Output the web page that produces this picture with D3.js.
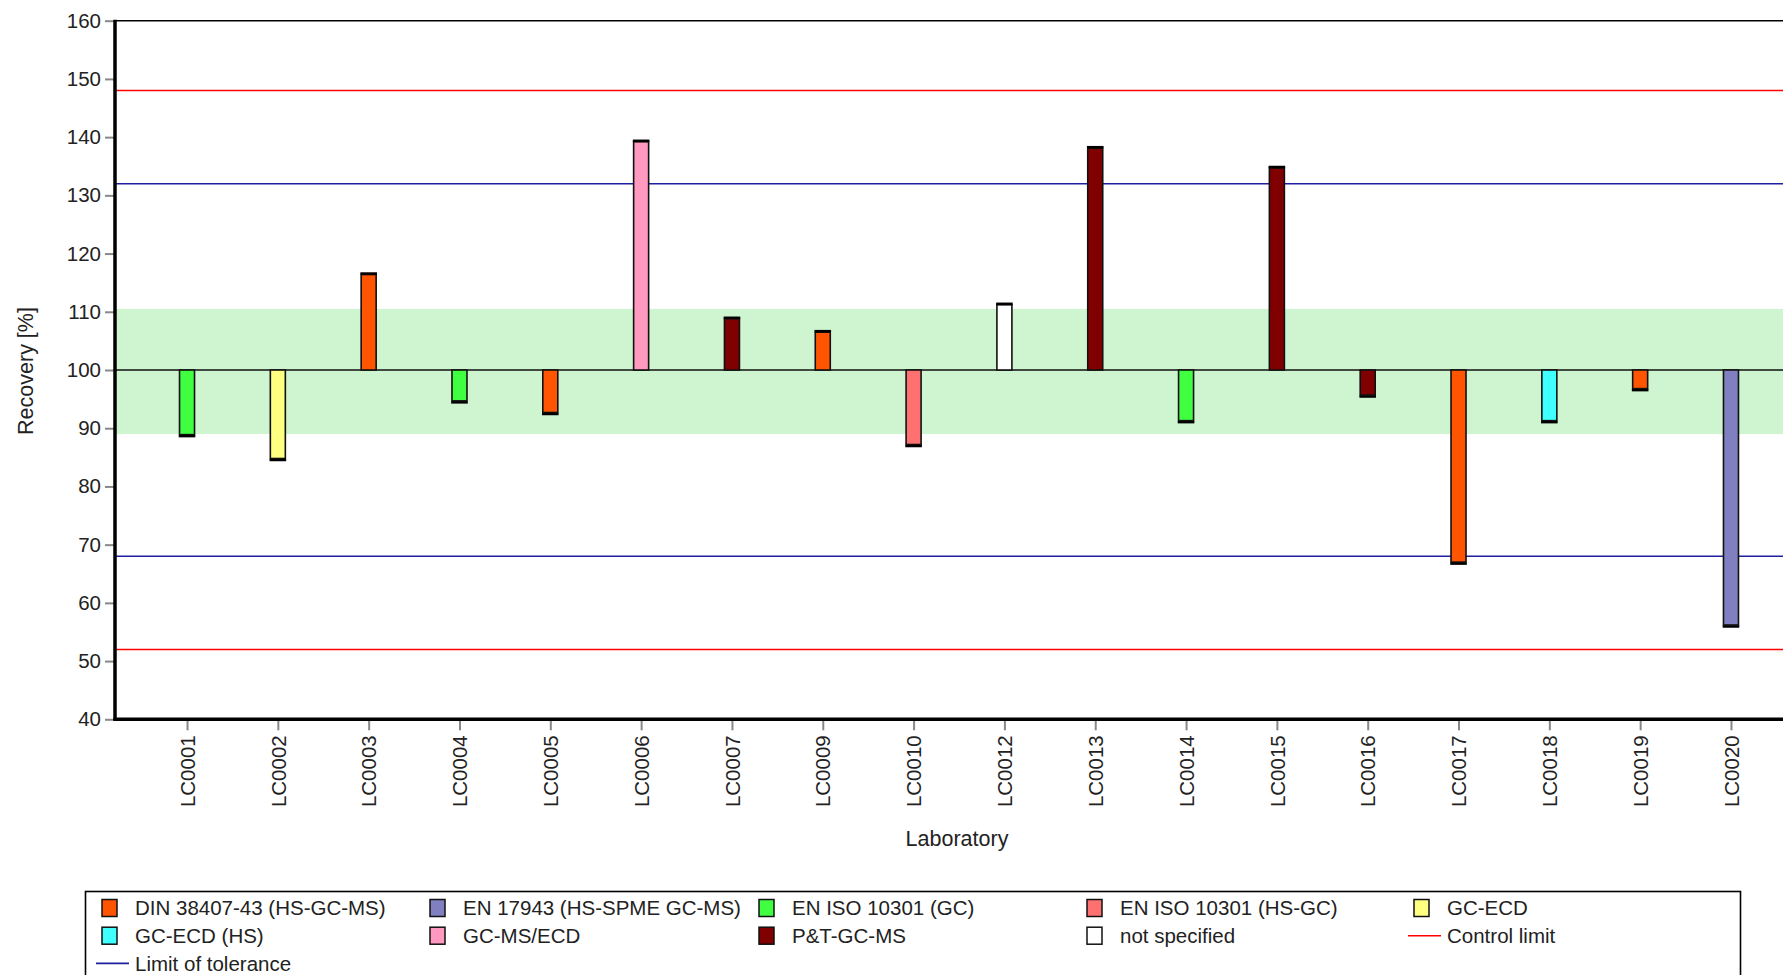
<!DOCTYPE html>
<html><head><meta charset="utf-8">
<script src="https://cdn.jsdelivr.net/npm/d3@7"></script>
<style>
html,body{margin:0;padding:0;background:#fff;overflow:hidden;}
svg{display:block;font-family:"Liberation Sans",Arial,sans-serif;}
</style></head>
<body>
<svg id="chart" width="1783" height="975"></svg>
<script>
// ---- data ----
const labs = ["LC0001","LC0002","LC0003","LC0004","LC0005","LC0006","LC0007","LC0009","LC0010","LC0012","LC0013","LC0014","LC0015","LC0016","LC0017","LC0018","LC0019","LC0020"];
const recovery = [88.9, 84.8, 116.4, 94.7, 92.7, 139.2, 108.8, 106.5, 87.2, 111.2, 138.1, 91.3, 134.7, 95.7, 67.0, 91.3, 96.8, 56.2];
const methods = ["EN ISO 10301 (GC)","GC-ECD","DIN 38407-43 (HS-GC-MS)","EN ISO 10301 (GC)","DIN 38407-43 (HS-GC-MS)","GC-MS/ECD","P&T-GC-MS","DIN 38407-43 (HS-GC-MS)","EN ISO 10301 (HS-GC)","not specified","P&T-GC-MS","EN ISO 10301 (GC)","P&T-GC-MS","P&T-GC-MS","DIN 38407-43 (HS-GC-MS)","GC-ECD (HS)","DIN 38407-43 (HS-GC-MS)","EN 17943 (HS-SPME GC-MS)"];
const methodNames = ["DIN 38407-43 (HS-GC-MS)","EN 17943 (HS-SPME GC-MS)","EN ISO 10301 (GC)","EN ISO 10301 (HS-GC)","GC-ECD","GC-ECD (HS)","GC-MS/ECD","P&T-GC-MS","not specified"];
const methodColors = ["#FF5500","#8080C0","#40FF40","#FF7070","#FFFF80","#40FFFF","#FF99C0","#800000","#FFFFFF"];
const yTicks = [40,50,60,70,80,90,100,110,120,130,140,150,160];
const reference = 100;
const band = [89.0, 110.5];
const toleranceLimits = [68, 132];
const controlLimits = [52, 148];

// ---- layout ----
const svg = d3.select("#chart");
const pLeft = 115, pTop = 20.7, pBottom = 719.3, pRight = 1803;
const FS = 20.5, TFS = 21.5;
const x = d3.scalePoint().domain(labs).range([pLeft, pRight]).padding(0.793);
const y = d3.scaleLinear().domain([40,160]).range([pBottom, pTop]);
const color = d3.scaleOrdinal().domain(methodNames).range(methodColors);

// band
svg.append("rect").attr("x", pLeft).attr("width", pRight-pLeft)
  .attr("y", y(band[1])).attr("height", y(band[0]) - y(band[1]))
  .attr("fill", "#CFF5D0");

// limit lines
controlLimits.forEach(v => svg.append("line").attr("x1", pLeft).attr("x2", pRight)
  .attr("y1", y(v)).attr("y2", y(v)).attr("stroke", "#FF0000").attr("stroke-width", 1.6));
toleranceLimits.forEach(v => svg.append("line").attr("x1", pLeft).attr("x2", pRight)
  .attr("y1", y(v)).attr("y2", y(v)).attr("stroke", "#1F1FA0").attr("stroke-width", 1.6));

// reference line
svg.append("line").attr("x1", pLeft).attr("x2", pRight).attr("y1", y(reference)).attr("y2", y(reference))
  .attr("stroke", "#111").attr("stroke-width", 1.5);

// bars
const bw = 15;
const data = labs.map((l,i)=>({lab:l, v:recovery[i], m:methods[i]}));
const g = svg.append("g");
g.selectAll("rect.bar").data(data).join("rect").attr("class","bar")
  .attr("x", d => x(d.lab) - bw/2).attr("width", bw)
  .attr("y", d => Math.min(y(d.v), y(reference)))
  .attr("height", d => Math.abs(y(d.v) - y(reference)))
  .attr("fill", d => color(d.m)).attr("stroke", "#111").attr("stroke-width", 1.6);
g.selectAll("line.cap").data(data).join("line").attr("class","cap")
  .attr("x1", d => x(d.lab) - bw/2 - 0.8).attr("x2", d => x(d.lab) + bw/2 + 0.8)
  .attr("y1", d => y(d.v) + (d.v < reference ? 1.5 : -1))
  .attr("y2", d => y(d.v) + (d.v < reference ? 1.5 : -1))
  .attr("stroke", "#000").attr("stroke-width", 2.5);

// top border
svg.append("line").attr("x1", pLeft).attr("x2", pRight).attr("y1", pTop).attr("y2", pTop)
  .attr("stroke", "#000").attr("stroke-width", 1.6);

// y axis
const ya = svg.append("g").attr("transform", `translate(${pLeft},0)`)
  .call(d3.axisLeft(y).tickValues(yTicks).tickSize(10).tickPadding(4).tickFormat(d3.format("d")));
ya.select(".domain").remove();
ya.selectAll(".tick line").attr("stroke", "#888").attr("stroke-width", 2);
ya.selectAll(".tick text").attr("font-size", FS).attr("fill", "#222").attr("font-family", "Liberation Sans, Arial, sans-serif");
svg.append("line").attr("x1", pLeft).attr("x2", pLeft).attr("y1", pTop-1).attr("y2", pBottom+1.5)
  .attr("stroke", "#000").attr("stroke-width", 3.5);

// x axis
const xa = svg.append("g").attr("transform", `translate(0,${pBottom})`)
  .call(d3.axisBottom(x).tickSize(11).tickPadding(0));
xa.select(".domain").remove();
xa.selectAll(".tick line").attr("stroke", "#888").attr("stroke-width", 2);
xa.selectAll(".tick text").attr("font-size", FS).attr("fill", "#222")
  .attr("font-family", "Liberation Sans, Arial, sans-serif")
  .attr("text-anchor", "end").attr("transform", "rotate(-90)")
  .attr("x", -16).attr("y", 0).attr("dy", "0.35em");
svg.append("line").attr("x1", pLeft-1.5).attr("x2", pRight).attr("y1", pBottom).attr("y2", pBottom)
  .attr("stroke", "#000").attr("stroke-width", 3.5);

// axis titles
svg.append("text").attr("x", 957).attr("y", 846).attr("text-anchor","middle")
  .attr("font-size", TFS).attr("fill","#222").text("Laboratory");
svg.append("text").attr("transform","translate(33,371) rotate(-90)").attr("text-anchor","middle")
  .attr("font-size", TFS).attr("fill","#222").text("Recovery [%]");

// legend
const lg = svg.append("g");
lg.append("rect").attr("x", 85.5).attr("y", 891.5).attr("width", 1655).attr("height", 120)
  .attr("fill", "#fff").attr("stroke", "#000").attr("stroke-width", 1.6);
const legendItems = methodNames.map((n,i)=>({name:n, type:"box", c:methodColors[i]}))
  .concat([{name:"Control limit", type:"line", c:"#FF0000"}, {name:"Limit of tolerance", type:"line", c:"#1F1FA0"}]);
const colX = [102, 430, 759, 1087, 1414];
legendItems.forEach((it,i)=>{
  const r = Math.floor(i/5), c = i%5;
  const cx = colX[c], cy = 908 + r*27.7;
  if (it.type === "box") {
    lg.append("rect").attr("x", cx).attr("y", cy-8.5).attr("width", 15).attr("height", 17)
      .attr("fill", it.c).attr("stroke", "#111").attr("stroke-width", 1.5);
  } else {
    lg.append("line").attr("x1", cx-6).attr("x2", cx+27).attr("y1", cy).attr("y2", cy)
      .attr("stroke", it.c).attr("stroke-width", 1.6);
  }
  lg.append("text").attr("x", cx+33).attr("y", cy).attr("dy","0.35em")
    .attr("font-size", FS).attr("fill","#222").text(it.name);
});
</script>
</body></html>
